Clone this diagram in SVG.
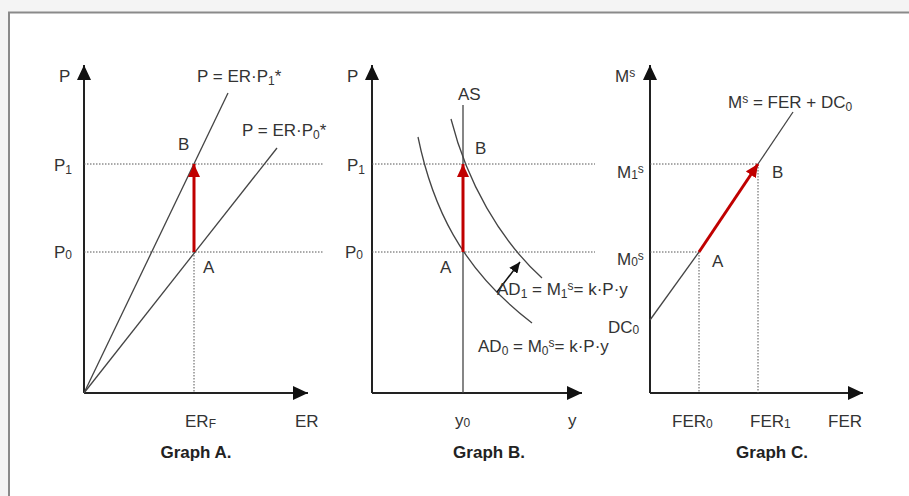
<svg xmlns="http://www.w3.org/2000/svg" width="909" height="496" viewBox="0 0 909 496">
<style>
text{font-family:"Liberation Sans",Arial,sans-serif;font-size:17px;fill:#333}
.b{font-weight:bold;fill:#222;font-size:17px}
.s{font-size:12px}
.axis{stroke:#222;stroke-width:2;fill:none}
.line{stroke:#444;stroke-width:1.3;fill:none}
.dot{stroke:#555;stroke-width:1;stroke-dasharray:1.5 1.5;fill:none}
.red{stroke:#c00000;stroke-width:3;fill:none}
</style>
<defs>
<marker id="ax" markerUnits="userSpaceOnUse" markerWidth="16" markerHeight="14" refX="15" refY="7" orient="auto"><path d="M0,0 L15,7 L0,14 Z" fill="#111"/></marker>
<marker id="ra" markerUnits="userSpaceOnUse" markerWidth="14" markerHeight="12" refX="13" refY="6" orient="auto"><path d="M0,0 L13,6 L0,12 Z" fill="#c00000"/></marker>
<marker id="ka" markerUnits="userSpaceOnUse" markerWidth="12" markerHeight="10" refX="11" refY="5" orient="auto"><path d="M0,0 L11,5 L0,10 Z" fill="#111"/></marker>
</defs>
<rect x="0" y="0" width="909" height="496" fill="#f4f4f4"/>
<rect x="9" y="12.5" width="920" height="500" fill="#fff" stroke="#8a8a8a" stroke-width="2"/>

<g id="graphA">
<line class="axis" x1="84" y1="393" x2="84" y2="65" marker-end="url(#ax)"/>
<line class="axis" x1="84" y1="393" x2="308" y2="393" marker-end="url(#ax)"/>
<line class="dot" x1="84" y1="164" x2="323" y2="164"/>
<line class="dot" x1="84" y1="252" x2="323" y2="252"/>
<line class="dot" x1="194" y1="252" x2="194" y2="393"/>
<line class="line" x1="84" y1="393" x2="228" y2="93"/>
<line class="line" x1="84" y1="393" x2="277" y2="148"/>
<line class="red" x1="194" y1="252" x2="194" y2="164" marker-end="url(#ra)"/>
<text x="59" y="82">P</text>
<text x="54" y="171">P<tspan class="s" dy="3">1</tspan></text>
<text x="54" y="258">P<tspan class="s" dy="1">0</tspan></text>
<text x="197" y="82">P = ER·P<tspan class="s" dy="3">1</tspan><tspan dy="-3">*</tspan></text>
<text x="242" y="136">P = ER·P<tspan class="s" dy="3">0</tspan><tspan dy="-3">*</tspan></text>
<text x="178" y="150">B</text>
<text x="203" y="273">A</text>
<text x="185" y="427">ER<tspan class="s" dy="1">F</tspan></text>
<text x="295" y="427">ER</text>
<text class="b" x="196" y="458" text-anchor="middle">Graph A.</text>
</g>

<g id="graphB">
<line class="axis" x1="372" y1="393" x2="372" y2="65" marker-end="url(#ax)"/>
<line class="axis" x1="372" y1="393" x2="582" y2="393" marker-end="url(#ax)"/>
<line class="dot" x1="372" y1="164" x2="595" y2="164"/>
<line class="dot" x1="372" y1="252" x2="595" y2="252"/>
<line class="line" x1="463" y1="105" x2="463" y2="393"/>
<path class="line" d="M418,137 C432,205 460,268 532,323"/>
<path class="line" d="M451,119 C467,182 500,240 542,278"/>
<line class="red" x1="463" y1="252" x2="463" y2="164" marker-end="url(#ra)"/>
<line stroke="#111" stroke-width="1.5" x1="497" y1="292" x2="520" y2="262" marker-end="url(#ka)"/>
<text x="347" y="82">P</text>
<text x="347" y="171">P<tspan class="s" dy="3">1</tspan></text>
<text x="345" y="258">P<tspan class="s" dy="1">0</tspan></text>
<text x="458" y="100">AS</text>
<text x="475" y="154">B</text>
<text x="440" y="273">A</text>
<text x="497" y="295">AD<tspan class="s" dy="3">1</tspan><tspan dy="-3"> = M</tspan><tspan class="s" dy="3">1</tspan><tspan class="s" dy="-8">s</tspan><tspan dy="5">= k·P·y</tspan></text>
<text x="478" y="352">AD<tspan class="s" dy="3">0</tspan><tspan dy="-3"> = M</tspan><tspan class="s" dy="3">0</tspan><tspan class="s" dy="-8">s</tspan><tspan dy="5">= k·P·y</tspan></text>
<text x="455" y="426">y<tspan class="s" dy="1">0</tspan></text>
<text x="568" y="426">y</text>
<text class="b" x="489" y="458" text-anchor="middle">Graph B.</text>
</g>

<g id="graphC">
<line class="axis" x1="650" y1="393" x2="650" y2="65" marker-end="url(#ax)"/>
<line class="axis" x1="650" y1="393" x2="863" y2="393" marker-end="url(#ax)"/>
<line class="dot" x1="650" y1="164" x2="758" y2="164"/>
<line class="dot" x1="650" y1="252" x2="699" y2="252"/>
<line class="dot" x1="699" y1="252" x2="699" y2="393"/>
<line class="dot" x1="758" y1="164" x2="758" y2="393"/>
<line class="line" x1="650" y1="320" x2="699" y2="252"/>
<line class="line" x1="758" y1="164" x2="793" y2="112"/>
<line class="red" x1="699" y1="252" x2="758" y2="164" marker-end="url(#ra)"/>
<text x="615" y="82">M<tspan class="s" dy="-5">s</tspan></text>
<text x="728" y="108">M<tspan class="s" dy="-5">s</tspan><tspan dy="5"> = FER + DC</tspan><tspan class="s" dy="3">0</tspan></text>
<text x="617" y="178">M<tspan class="s" dy="1">1</tspan><tspan class="s" dy="-6">s</tspan></text>
<text x="617" y="265">M<tspan class="s" dy="1">0</tspan><tspan class="s" dy="-6">s</tspan></text>
<text x="772" y="178">B</text>
<text x="712" y="267">A</text>
<text x="608" y="333">DC<tspan class="s" dy="1">0</tspan></text>
<text x="672" y="427">FER<tspan class="s" dy="1">0</tspan></text>
<text x="750" y="427">FER<tspan class="s" dy="1">1</tspan></text>
<text x="828" y="427">FER</text>
<text class="b" x="772" y="458" text-anchor="middle">Graph C.</text>
</g>
</svg>
